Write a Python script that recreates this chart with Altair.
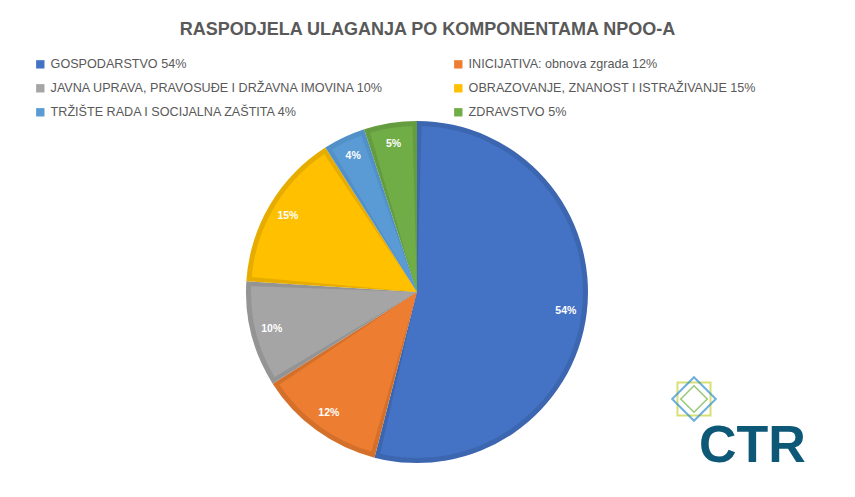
import altair as alt
import pandas as pd

categories = [
    "GOSPODARSTVO  54%",
    "INICIJATIVA: obnova zgrada 12%",
    "JAVNA UPRAVA, PRAVOSUĐE I DRŽAVNA IMOVINA 10%",
    "OBRAZOVANJE, ZNANOST I ISTRAŽIVANJE  15%",
    "TRŽIŠTE RADA I SOCIJALNA ZAŠTITA 4%",
    "ZDRAVSTVO 5%",
]
values = [54, 12, 10, 15, 4, 5]
labels = ["54%", "12%", "10%", "15%", "4%", "5%"]
colors = ["#4472C4", "#ED7D31", "#A5A5A5", "#FFC000", "#5B9BD5", "#70AD47"]
borders = ["#3D66B0", "#D5702B", "#949494", "#E6AD00", "#5290C8", "#659C3F"]

# legend is laid out column by column: order so that it reads row by row
legend_order = [0, 2, 4, 1, 3, 5]
legend_domain = [categories[i] for i in legend_order]
legend_range = [colors[i] for i in legend_order]

df = pd.DataFrame({
    "cat": categories,
    "val": values,
    "lab": labels,
    "dark": borders,
    "idx": list(range(len(values))),
})

CX, CY = 409, 249

base = alt.Chart(df).encode(
    theta=alt.Theta("val:Q", stack=True),
    order=alt.Order("idx:Q"),
    x=alt.value(CX),
    y=alt.value(CY),
)

outer = base.mark_arc(outerRadius=171).encode(
    color=alt.Color("dark:N", scale=None)
)

inner = base.mark_arc(outerRadius=166, padAngle=0.055).encode(
    color=alt.Color(
        "cat:N",
        scale=alt.Scale(domain=legend_domain, range=legend_range),
        legend=alt.Legend(
            orient="none", legendX=26, legendY=15, columns=2,
            columnPadding=68, rowPadding=11, title=None,
            symbolType="square", symbolSize=70, symbolStrokeWidth=0,
            labelFontSize=12.6, labelColor="#595959", labelFont="Liberation Sans",
            labelLimit=600, labelOffset=4,
        ),
    )
)

text = base.mark_text(radius=150, font="Liberation Sans", fontSize=10.5,
                      fontWeight="bold", color="white").encode(text="lab:N")

logo_df = pd.DataFrame({"t": ["CTR"]})
logo_text = alt.Chart(logo_df).mark_text(
    font="Liberation Sans", fontSize=52, fontWeight="bold", color="#0E5877",
    align="left", baseline="alphabetic"
).encode(text="t:N", x=alt.value(691), y=alt.value(419))

logo_sq = alt.Chart(logo_df).mark_point(
    shape="square", filled=False, size=1090, stroke="#C8D43A", strokeWidth=2
).encode(x=alt.value(686), y=alt.value(356))
logo_dm = alt.Chart(logo_df).mark_point(
    shape="diamond", filled=False, size=1900, stroke="#2F8FD0", strokeWidth=2
).encode(x=alt.value(686), y=alt.value(356))
logo_in = alt.Chart(logo_df).mark_point(
    shape="diamond", filled=False, size=700, stroke="#6DB33F", strokeWidth=1.5
).encode(x=alt.value(686), y=alt.value(356))

chart = alt.layer(outer, inner, text, logo_sq, logo_dm, logo_in, logo_text).properties(
    width=839, height=446,
    padding={"top": 35, "left": 0, "right": 0, "bottom": 0},
    autosize=alt.AutoSizeParams(type="none"),
    title=alt.TitleParams(
        "RASPODJELA ULAGANJA PO KOMPONENTAMA NPOO-A",
        fontSize=18, fontWeight="bold", color="#595959", font="Liberation Sans",
        anchor="middle", offset=4,
    ),
).configure_view(stroke=None)

chart.save("out.html", embed_options={"renderer": "svg", "actions": False})
